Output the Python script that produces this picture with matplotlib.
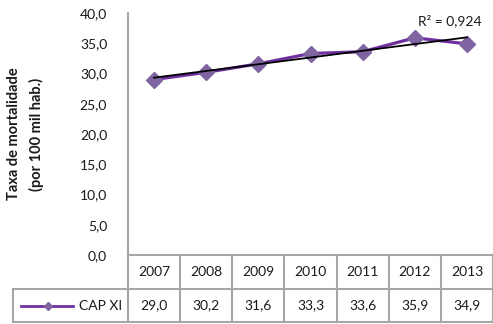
import matplotlib.pyplot as plt
import numpy as np
from matplotlib.lines import Line2D

plt.rcParams['font.family'] = ['Lato', 'DejaVu Sans']

# dados
anos = ['2007', '2008', '2009', '2010', '2011', '2012', '2013']
taxa = [29.0, 30.2, 31.6, 33.3, 33.6, 35.9, 34.9]
serie_nome = 'CAP XI'
y_ticks = [0, 5, 10, 15, 20, 25, 30, 35, 40]

cor_linha = '#7030A0'
cor_marcador = '#8064A2'
cor_grade = '#A6A6A6'
cor_texto = '#1a1a1a'
fs = 10

W, H = 493, 324
fig = plt.figure(figsize=(W / 100, H / 100), dpi=100)
# area do grafico em pixels
x0, x1, y_top, y_bot = 128, 493, 13, 255
ax = fig.add_axes([x0 / W, 1 - y_bot / H, (x1 - x0) / W, (y_bot - y_top) / H])

x = np.arange(1, len(anos) + 1)
ax.plot(x, taxa, color=cor_linha, linewidth=2.3, marker='D', markersize=8,
        markerfacecolor=cor_marcador, markeredgecolor=cor_marcador, zorder=3)

# linha de tendencia linear
coef = np.polyfit(x, taxa, 1)
ajuste = np.polyval(coef, x)
r2 = 1 - np.sum((np.array(taxa) - ajuste) ** 2) / np.sum((np.array(taxa) - np.mean(taxa)) ** 2)
ax.plot([x[0], x[-1]], [ajuste[0], ajuste[-1]], color='black', linewidth=1.3, zorder=4)
ax.annotate(f'R² = {r2:.3f}'.replace('.', ','), xy=(x[-1], ajuste[-1]),
            xytext=(-12, 7), textcoords='offset points', ha='center', va='bottom',
            fontsize=fs, color=cor_texto)

ax.set_xlim(0.5, len(anos) + 0.5)
ax.set_ylim(0, 40)
ax.set_yticks(y_ticks)
ax.set_yticklabels([f'{v:.1f}'.replace('.', ',') for v in y_ticks], fontsize=fs)
ax.tick_params(axis='y', length=0, pad=15, colors=cor_texto)
ax.set_xticks([])
for s in ['top', 'right', 'bottom']:
    ax.spines[s].set_visible(False)
ax.spines['left'].set_color(cor_grade)
ax.spines['left'].set_linewidth(1.5)

ax.set_ylabel('Taxa de mortalidade\n(por 100 mil hab.)', fontsize=10.5,
              fontweight='bold', labelpad=26, linespacing=1.6, color=cor_texto)

# tabela de dados abaixo do grafico
def fy(py):
    return 1 - py / H

def fx(px):
    return px / W

col_edges = [x0 + i * (x1 - x0) / len(anos) for i in range(len(anos) + 1)]
r0, r1, r2_ = 255, 289, 322
lw = 1.5
lines = []
# linhas horizontais
lines.append(([x0, x1], [r0, r0]))
lines.append(([13, x1], [r1, r1]))
lines.append(([13, x1], [r2_, r2_]))
# verticais
for e in col_edges:
    lines.append(([e, e], [r0, r2_]))
lines.append(([13, 13], [r1, r2_]))
for xs, ys in lines:
    fig.add_artist(Line2D([fx(v) for v in xs], [fy(v) for v in ys],
                          color=cor_grade, linewidth=lw))

for i, ano in enumerate(anos):
    cx = (col_edges[i] + col_edges[i + 1]) / 2
    fig.text(fx(cx), fy((r0 + r1) / 2), ano, ha='center', va='center',
             fontsize=fs, color=cor_texto)
    fig.text(fx(cx), fy((r1 + r2_) / 2), f'{taxa[i]:.1f}'.replace('.', ','),
             ha='center', va='center', fontsize=fs, color=cor_texto)

# legenda na tabela
ly = fy((r1 + r2_) / 2)
fig.add_artist(Line2D([fx(21), fx(73)], [ly, ly], color=cor_linha, linewidth=2))
fig.add_artist(Line2D([fx(48)], [ly], marker='D', markersize=4.5, color=cor_marcador,
                      linestyle='none'))
fig.text(fx(79), ly, serie_nome, ha='left', va='center', fontsize=fs, color=cor_texto)

fig.savefig('out.png', dpi=100)
